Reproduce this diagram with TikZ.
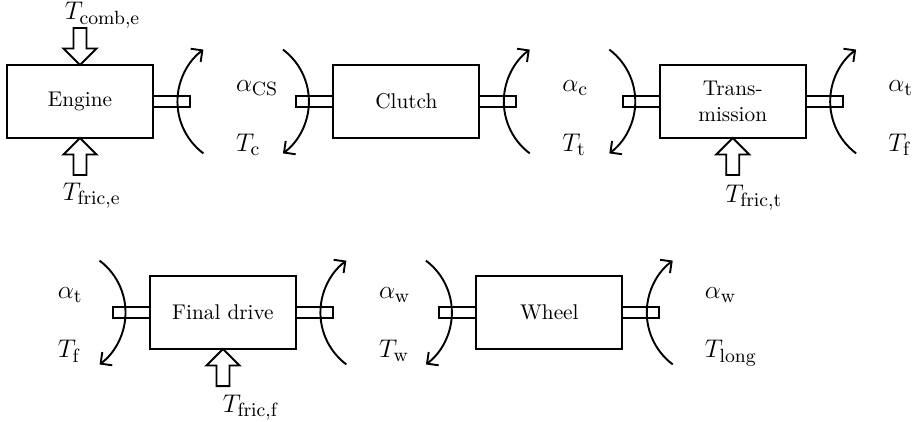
\documentclass[tikz,border=0pt]{standalone}
\usetikzlibrary{positioning,shapes.arrows,arrows.meta}
\begin{document}
\begin{tikzpicture}[node distance={153.4pt}, line width=0.9pt,
  main/.style = {draw, minimum width=68.6pt, minimum height=34.3pt, outer sep=0pt, align=center},
  shaft/.style = {draw, minimum width=17.4pt, minimum height=5.2pt, inner sep=0pt, outer sep=0pt},
  fric/.style = {draw, single arrow, minimum height=17.4pt, minimum width=14.6pt, single arrow head extend=4.7pt, inner sep=2.6pt, outer sep=0pt},
  lab/.style = {inner sep=0pt, anchor=base west, font=\fontsize{12.5}{15}\selectfont},
  >={Straight Barb[length=3.9pt,width=7.8pt]}]
\useasboundingbox (-37.6pt,47.7pt) rectangle ++(429.6pt,-198.3pt);
\node[main] (eng) {Engine};
\node[main] (clu) [right of=eng] {Clutch};
\node[main] (tra) [right of=clu] {Trans-\\mission};
\node[main] (fin) [node distance=99.2pt, below of=eng, xshift=67.2pt] {Final drive};
\node[main] (whe) [right of=fin] {Wheel};

\node[shaft] (eo) [right=0pt of eng] {};
\node[shaft] (ci) [left=0pt of clu] {};
\node[shaft] (co) [right=0pt of clu] {};
\node[shaft] (ti) [left=0pt of tra] {};
\node[shaft] (to) [right=0pt of tra] {};
\node[shaft] (fi) [left=0pt of fin] {};
\node[shaft] (fo) [right=0pt of fin] {};
\node[shaft] (wi) [left=0pt of whe] {};
\node[shaft] (wo) [right=0pt of whe] {};

\node[fric, rotate=-90, anchor=tip] (ce) at (eng.north) {};
\node[fric, rotate=90, anchor=tip] (fe) at (eng.south) {};
\node[fric, rotate=90, anchor=tip] (ft) at (tra.south) {};
\node[fric, rotate=90, anchor=tip] (ff) at (fin.south) {};
\node[lab] (lce) at ([shift={(-7.5pt,3.8pt)}]ce.tail) {$T_{\mathrm{comb,e}}$};
\node[lab] (lfe) [below right=3.3pt and -8.5pt of fe.tail] {$T_{\mathrm{fric,e}}$};
\node[lab] (lft) [below right=4.2pt and -3.8pt of ft.tail] {$T_{\mathrm{fric,t}}$};
\node[lab] (lff) [below right=3.6pt and -0.5pt of ff.tail] {$T_{\mathrm{fric,f}}$};

\draw[->] ([shift={(6.3pt,-24.4pt)}]eo.east) arc[start angle=233.13, end angle=126.87, radius=30.5pt];
\draw[->] ([shift={(-6.3pt,24.4pt)}]ci.west) arc[start angle=53.13, end angle=-53.13, radius=30.5pt];
\draw[->] ([shift={(6.3pt,-24.4pt)}]co.east) arc[start angle=233.13, end angle=126.87, radius=30.5pt];
\draw[->] ([shift={(-6.3pt,24.4pt)}]ti.west) arc[start angle=53.13, end angle=-53.13, radius=30.5pt];
\draw[->] ([shift={(6.3pt,-24.4pt)}]to.east) arc[start angle=233.13, end angle=126.87, radius=30.5pt];
\draw[->] ([shift={(-6.3pt,24.4pt)}]fi.west) arc[start angle=53.13, end angle=-53.13, radius=30.5pt];
\draw[->] ([shift={(6.3pt,-24.4pt)}]fo.east) arc[start angle=233.13, end angle=126.87, radius=30.5pt];
\draw[->] ([shift={(-6.3pt,24.4pt)}]wi.west) arc[start angle=53.13, end angle=-53.13, radius=30.5pt];
\draw[->] ([shift={(6.3pt,-24.4pt)}]wo.east) arc[start angle=233.13, end angle=126.87, radius=30.5pt];

\path (eo.east) -- node[lab, xshift=-3.8pt, yshift=4.8pt] (acs) {$\alpha_{\mathrm{CS}}$} node[lab, xshift=-3.8pt, yshift=-23.4pt] (tc) {$T_{\mathrm{c}}$} (ci.west);
\path (co.east) -- node[lab, xshift=-3.8pt, yshift=4.8pt] (ac) {$\alpha_{\mathrm{c}}$} node[lab, xshift=-3.8pt, yshift=-23.4pt] (tt) {$T_{\mathrm{t}}$} (ti.west);
\node[lab] (at1) at ([shift={(21pt,4.8pt)}]to.east) {$\alpha_{\mathrm{t}}$};
\node[lab] (tf1) at ([shift={(21pt,-23.4pt)}]to.east) {$T_{\mathrm{f}}$};
\node[lab] (at2) at ([shift={(-26.3pt,6.5pt)}]fi.west) {$\alpha_{\mathrm{t}}$};
\node[lab] (tf2) at ([shift={(-26.3pt,-21.2pt)}]fi.west) {$T_{\mathrm{f}}$};
\path (fo.east) -- node[lab, xshift=-3.8pt, yshift=6.5pt] (aw1) {$\alpha_{\mathrm{w}}$} node[lab, xshift=-3.8pt, yshift=-21.2pt] (tw) {$T_{\mathrm{w}}$} (wi.west);
\node[lab] (aw2) at ([shift={(21pt,6.5pt)}]wo.east) {$\alpha_{\mathrm{w}}$};
\node[lab] (tl) at ([shift={(21pt,-21.2pt)}]wo.east) {$T_{\mathrm{long}}$};
\end{tikzpicture}
\end{document}
